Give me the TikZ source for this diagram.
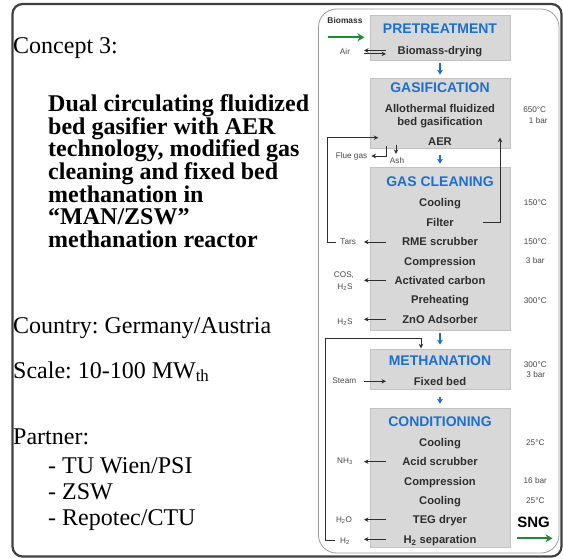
\documentclass[tikz,border=0pt]{standalone}
\usepackage{fontspec}
\setmainfont{Liberation Serif}
\newfontfamily\panelfont{Liberation Sans}
\usetikzlibrary{arrows.meta,calc}
\frenchspacing

\definecolor{frameedge}{HTML}{404040}
\definecolor{paneledge}{HTML}{9C9C9C}
\definecolor{boxfill}{HTML}{D8D8D8}
\definecolor{boxedge}{HTML}{C2C2C2}
\definecolor{stepblue}{HTML}{1E6FCC}
\definecolor{stepink}{HTML}{2E2E2E}
\definecolor{sideink}{HTML}{474747}
\definecolor{feedgreen}{HTML}{1E8C36}

\begin{document}
\begin{tikzpicture}[x=1pt,y=-1pt,
  outerframe/.style={draw=frameedge,line width=2.2pt,rounded corners=10pt},
  panelframe/.style={draw=paneledge,line width=0.8pt,rounded corners=18pt},
  stagebox/.style={draw=boxedge,fill=boxfill,line width=0.7pt,minimum width=140pt,inner sep=0pt},
  stagetitle/.style={font=\panelfont\bfseries\fontsize{14}{14}\selectfont,text=stepblue,inner sep=0pt,text height=10pt,text depth=0pt},
  stagetext/.style={font=\panelfont\bfseries\fontsize{11.2}{12}\selectfont,text=stepink,inner sep=0pt,text height=8pt,text depth=0pt},
  sidetext/.style={font=\panelfont\fontsize{8.2}{9}\selectfont,text=sideink,inner sep=0pt,text height=5.8pt,text depth=0pt},
  sidebold/.style={sidetext,font=\panelfont\bfseries\fontsize{8.4}{9}\selectfont,text=stepink},
  productlabel/.style={font=\panelfont\bfseries\fontsize{15}{15}\selectfont,text=black,inner sep=0pt,text height=10.7pt,text depth=0pt},
  leftplain/.style={font=\fontsize{24}{24}\selectfont,inner sep=0pt,anchor=base west},
  leftbold/.style={font=\bfseries\fontsize{24}{24}\selectfont,inner sep=0pt,anchor=base west},
  flowarrow/.style={draw=stepblue,line width=1.3pt,-{Stealth[length=5pt,width=6pt]}},
  outarrow/.style={draw=stepink,line width=0.9pt,-{Stealth[length=4.5pt,width=4.5pt]}},
  feedarrow/.style={draw=feedgreen,line width=1.8pt,-{Stealth[length=7pt,width=8pt]}},
]
\useasboundingbox (0,0) rectangle (563,559);

% frames
\draw[outerframe] (12.5,4) rectangle (561.5,556.5);
\draw[panelframe] (318.5,9) rectangle (559,553);

% ---------- left column text ----------
\node[leftplain] (concept) at (13,54) {Concept 3:};
\node[leftbold] (desc1) at (48,111.5) {Dual circulating fluidized};
\node[leftbold] (desc2) at (48,134.2) {bed gasifier with AER};
\node[leftbold] (desc3) at (48,156.9) {technology, modified gas};
\node[leftbold] (desc4) at (48,179.6) {cleaning and fixed bed};
\node[leftbold] (desc5) at (48,202.3) {methanation in};
\node[leftbold] (desc6) at (48,225) {“MAN/ZSW”};
\node[leftbold] (desc7) at (48,247.7) {methanation reactor};
\node[leftplain] (country) at (13,333) {Country: Germany/Austria};
\node[leftplain] (scale) at (13,378) {Scale: 10-100 MW\textsubscript{th}};
\node[leftplain] (partner) at (13,444) {Partner:};
\node[leftplain] (partner1) at (48,473) {- TU Wien/PSI};
\node[leftplain] (partner2) at (48,499) {- ZSW};
\node[leftplain] (partner3) at (48,525.5) {- Repotec/CTU};

% ---------- process boxes ----------
\node[stagebox,minimum height=45pt] (pre) at (440,37.5) {};
\node[stagebox,minimum height=70pt] (gas) at (440,113) {};
\node[stagebox,minimum height=163pt] (clean) at (440,248.5) {};
\node[stagebox,minimum height=40pt] (meth) at (440,369) {};
\node[stagebox,minimum height=139pt] (cond) at (440,477.5) {};

% pretreatment
\node[stagetitle] (preT) at (440,29) {PRETREATMENT};
\node[stagetext] (drying) at (440,50.7) {Biomass-drying};
% gasification
\node[stagetitle] (gasT) at (440,88) {GASIFICATION};
\node[stagetext] (allo) at (440,108.5) {Allothermal fluidized};
\node[stagetext] (bedgas) at (440,122) {bed gasification};
\node[stagetext] (aer) at (440,142) {AER};
% gas cleaning
\node[stagetitle] (cleanT) at (440,182) {GAS CLEANING};
\node[stagetext] (cool1) at (440,202.7) {Cooling};
\node[stagetext] (filter) at (440,222.3) {Filter};
\node[stagetext] (rme) at (440,242) {RME scrubber};
\node[stagetext] (comp1) at (440,261.3) {Compression};
\node[stagetext] (carbon) at (440,280.3) {Activated carbon};
\node[stagetext] (preheat) at (440,300) {Preheating};
\node[stagetext] (zno) at (440,319.3) {ZnO Adsorber};
% methanation
\node[stagetitle] (methT) at (440,360) {METHANATION};
\node[stagetext] (fixedbed) at (440,381.3) {Fixed bed};
% conditioning
\node[stagetitle] (condT) at (440,421) {CONDITIONING};
\node[stagetext] (cool2) at (440,442) {Cooling};
\node[stagetext] (acid) at (440,461.7) {Acid scrubber};
\node[stagetext] (comp2) at (440,481) {Compression};
\node[stagetext] (cool3) at (440,500.3) {Cooling};
\node[stagetext] (teg) at (440,519.7) {TEG dryer};
\node[stagetext] (hsep) at (440,539.3) {H\textsubscript{2} separation};

% ---------- operating conditions ----------
\node[sidetext] (t650) at (534.7,109.3) {650°C};
\node[sidetext] (p1) at (538.3,120.7) {1 bar};
\node[sidetext] (t150a) at (535.3,203) {150°C};
\node[sidetext] (t150b) at (535.3,242) {150°C};
\node[sidetext] (p3a) at (535.3,261) {3 bar};
\node[sidetext] (t300a) at (535.3,300.5) {300°C};
\node[sidetext] (t300b) at (535.3,364.3) {300°C};
\node[sidetext] (p3b) at (535.8,374.3) {3 bar};
\node[sidetext] (t25a) at (535.3,443) {25°C};
\node[sidetext] (p16) at (535.3,481) {16 bar};
\node[sidetext] (t25b) at (535.3,500.7) {25°C};
\node[productlabel] (sng) at (533.5,521.7) {SNG};

% ---------- side streams ----------
\node[sidebold] (biomass) at (345,20.5) {Biomass};
\node[sidetext] (air) at (345,52) {Air};
\node[sidetext] (flue) at (351.5,156) {Flue gas};
\node[sidetext] (ash) at (397,161) {Ash};
\node[sidetext] (tars) at (348.2,242) {Tars};
\node[sidetext] (cos) at (344,275) {COS,};
\node[sidetext] (hs1) at (345,286.3) {H\textsubscript{2}S};
\node[sidetext] (hs2) at (345,321.7) {H\textsubscript{2}S};
\node[sidetext] (steam) at (344.3,380.7) {Steam};
\node[sidetext] (nh3) at (345,460.3) {NH\textsubscript{3}};
\node[sidetext] (h2o) at (344,519.3) {H\textsubscript{2}O};
\node[sidetext] (h2) at (345,540.7) {H\textsubscript{2}};

% reference columns for the short stream arrows
\coordinate (xin) at (386,0);
\coordinate (xout) at (364,0);

% main flow
\draw[flowarrow,shorten <=3pt,shorten >=3pt] (pre.south) -- (gas.north);
\draw[flowarrow,shorten <=7pt,shorten >=3pt] (gas.south) -- (clean.north);
\draw[flowarrow,shorten <=3pt,shorten >=4pt] (clean.south) -- (meth.north);
\draw[flowarrow,shorten <=7.5pt,shorten >=4pt] (meth.south) -- (cond.north);

% feed and product
\coordinate (feedA) at (328.3,37.3);
\coordinate (feedB) at (364.5,37.3);
\draw[feedarrow] (feedA) -- (feedB);
\coordinate (sngA) at (517.3,538.3);
\coordinate (sngB) at (552.5,538.3);
\draw[feedarrow] (sngA) -- (sngB);

% air exchange at the dryer
\draw[outarrow] ($(drying -| xin)+(0,-0.2)$) -- ($(drying -| xout)+(0,-0.2)$);
\draw[outarrow] ($(drying -| xout)+(0,3.2)$) -- ($(drying -| xin)+(0,3.2)$);

% gasifier outlets
\coordinate (flueout) at (386,146.5);
\draw[outarrow,shorten >=4pt] (flueout) |- (flue.east);
\coordinate (ashout) at (396,145);
\draw[outarrow,shorten >=4pt] (ashout) -- (ashout |- ash.north);

% recycle loops
\coordinate (tarsloop) at (327.3,137.7);
\coordinate (tarsin) at (378.3,137.7);
\draw[outarrow,shorten <=4pt] (tars.west) -| (tarsloop) -- (tarsin);
\coordinate (filterout) at (482.7,222.5);
\coordinate (filterin) at (500,137.7);
\draw[outarrow] (filterout) -| (filterin);
\coordinate (h2loop) at (325.7,338.3);
\coordinate (methin) at (421,348.3);
\draw[outarrow,shorten <=5pt] (h2.west) -| (h2loop) -| (methin);

% stream arrows beside the units
\draw[outarrow] (rme -| xin) -- (rme -| xout);
\draw[outarrow] (carbon -| xin) -- (carbon -| xout);
\draw[outarrow] (zno -| xin) -- (zno -| xout);
\draw[outarrow] (fixedbed -| xout) -- (fixedbed -| xin);
\draw[outarrow] (acid -| xin) -- (acid -| xout);
\draw[outarrow] (teg -| xin) -- (teg -| xout);
\draw[outarrow] (hsep -| xin) -- (hsep -| xout);
\end{tikzpicture}
\end{document}
